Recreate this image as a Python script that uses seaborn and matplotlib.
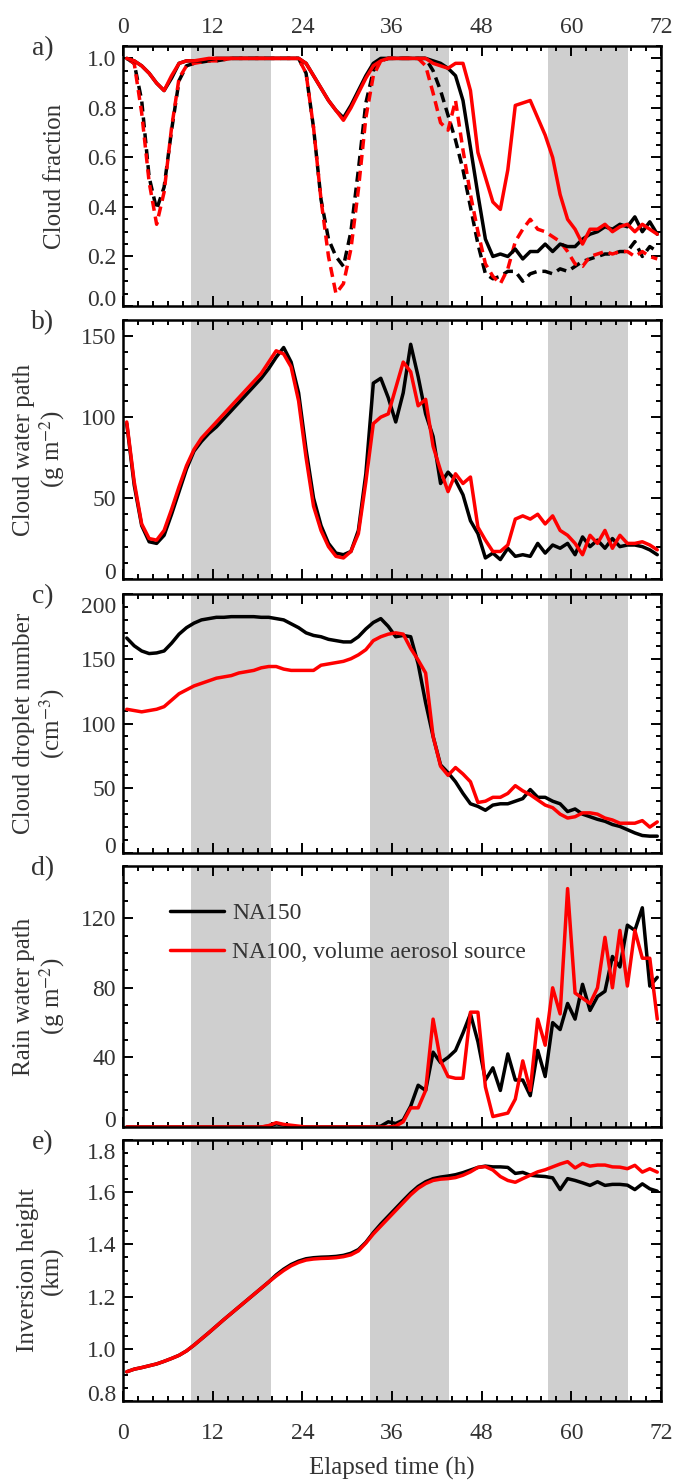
import numpy as np
import pandas as pd
import matplotlib
matplotlib.use("Agg")
import matplotlib.pyplot as plt
import seaborn as sns
from matplotlib.ticker import MultipleLocator, FormatStrFormatter
from matplotlib.transforms import ScaledTranslation
from matplotlib.lines import Line2D

sns.set_theme(style="ticks")
plt.rcParams["font.family"] = ["Liberation Serif", "DejaVu Serif"]
plt.rcParams["mathtext.fontset"] = "stix"

# ---------------- data ----------------
hours = np.arange(0.5, 72, 1.0)
runs = ["NA150", "NA100, volume aerosol source"]
nights = [(9.1, 19.8), (33.0, 43.6), (56.9, 67.6)]

cf_na150_solid = [1.00, 0.99, 0.97, 0.94, 0.90, 0.87, 0.92, 0.98, 0.99,
                  0.99, 0.99, 0.995, 1.0, 1.0, 1.0, 1.0, 1.0, 1.0, 1.0, 1.0, 1.0, 1.0, 1.0,
                  1.00, 0.98, 0.93, 0.88, 0.83, 0.79, 0.76, 0.81, 0.87, 0.93, 0.98, 1.00,
                  1.0, 1.0, 1.0, 1.0, 1.0, 1.0, 0.99,
                  0.98, 0.96, 0.93, 0.83, 0.64, 0.45, 0.27, 0.20, 0.21, 0.20, 0.23, 0.19,
                  0.22, 0.22, 0.25, 0.22, 0.25, 0.24, 0.24, 0.27, 0.29, 0.30, 0.32, 0.31,
                  0.33, 0.32, 0.36, 0.30, 0.34, 0.29]
cf_na100_solid = [1.00, 0.99, 0.97, 0.94, 0.90, 0.87, 0.93, 0.98, 0.99,
                  0.99, 0.995, 1.0, 1.0, 1.0, 1.0, 1.0, 1.0, 1.0, 1.0, 1.0, 1.0, 1.0, 1.0,
                  1.00, 0.98, 0.93, 0.88, 0.83, 0.79, 0.75, 0.80, 0.86, 0.92, 0.97, 0.99,
                  1.0, 1.0, 1.0, 1.0, 1.0, 1.0,
                  0.98, 0.97, 0.96, 0.98, 0.98, 0.87, 0.62, 0.52, 0.42, 0.39, 0.55, 0.81,
                  0.82, 0.83, 0.76, 0.69, 0.60, 0.45, 0.35, 0.31, 0.25, 0.31, 0.31, 0.33,
                  0.30, 0.32, 0.33, 0.30, 0.33, 0.31, 0.29]
cf_na150_dash = [1.00, 0.98, 0.83, 0.52, 0.39, 0.48, 0.71, 0.91, 0.97,
                 0.98, 0.985, 0.99, 0.99, 0.995, 1.0, 1.0, 1.0, 1.0, 1.0, 1.0, 1.0, 1.0, 1.0,
                 1.00, 0.94, 0.72, 0.43, 0.27, 0.20, 0.16, 0.30, 0.55, 0.82, 0.95, 0.99,
                 1.0, 1.0, 1.0, 1.0, 1.0, 1.0,
                 0.95, 0.87, 0.77, 0.67, 0.55, 0.40, 0.25, 0.13, 0.11, 0.12, 0.14, 0.14,
                 0.10, 0.13, 0.14, 0.14, 0.13, 0.15, 0.14, 0.16, 0.18, 0.19, 0.20, 0.21,
                 0.21, 0.22, 0.22, 0.26, 0.20, 0.24, 0.22]
cf_na100_dash = [1.00, 0.98, 0.78, 0.50, 0.33, 0.46, 0.72, 0.92, 0.97,
                 0.98, 0.985, 0.99, 0.99, 0.995, 1.0, 1.0, 1.0, 1.0, 1.0, 1.0, 1.0, 1.0, 1.0,
                 1.00, 0.94, 0.72, 0.43, 0.20, 0.05, 0.09, 0.23, 0.47, 0.76, 0.93, 0.99,
                 1.0, 1.0, 1.0, 1.0, 1.0,
                 0.97, 0.86, 0.74, 0.71, 0.83, 0.63, 0.45, 0.30, 0.17, 0.12, 0.09, 0.15,
                 0.26, 0.31, 0.35, 0.31, 0.30, 0.28, 0.26, 0.22, 0.17, 0.16, 0.20, 0.21,
                 0.22, 0.21, 0.22, 0.22, 0.20, 0.22, 0.20, 0.19]

cwp_na150 = [96, 58, 33, 23, 22, 27, 40, 54, 68, 79, 85, 90, 94, 99, 104, 109, 114, 119, 124, 130,
             137, 143, 134, 115, 80, 50, 33, 22, 16, 15, 17, 30, 65, 121, 124, 112, 97, 115, 145, 125,
             102, 88, 59, 66, 61, 52, 36, 28, 13, 16, 12, 19, 14, 15, 14, 22, 16, 21, 19, 22,
             15, 26, 20, 24, 19, 25, 20, 21, 21, 20, 18, 15]
cwp_na100 = [97, 60, 34, 25, 24, 30, 43, 57, 70, 80, 87, 92, 97, 102, 107, 112, 117, 122, 127, 134,
             141, 139, 131, 110, 75, 45, 30, 20, 14, 13, 17, 28, 60, 96, 100, 102, 118, 134, 128, 107,
             111, 82, 67, 54, 65, 59, 63, 32, 24, 17, 17, 21, 37, 39, 37, 40, 34, 39, 30, 27,
             22, 15, 27, 22, 30, 19, 27, 22, 22, 23, 21, 18]

cdnc_na150 = [166, 160, 156, 154, 154.5, 156, 162, 169, 174, 177.5, 180, 181, 182, 182, 182.5, 182.5, 182.5, 182.5, 182, 182,
              181, 180, 177, 174, 170, 168, 167, 165, 164, 163, 163, 167, 173, 178, 181, 175, 167, 168, 167, 146,
              116, 90, 68, 62, 55, 46, 38, 36, 33, 37, 38, 38, 40, 42, 49, 43, 43, 40, 38, 32,
              34, 30, 28, 26, 24.5, 22, 20.5, 18, 15.5, 13.5, 13, 13]
cdnc_na100 = [111, 110, 109, 110, 111, 113, 118, 123, 126, 129, 131, 133, 135, 136, 137, 139, 140, 141, 143, 144,
              144, 142, 141, 141, 141, 141, 145, 146, 147, 148, 150, 153, 157, 164, 167, 169, 170, 169, 158, 149,
              139, 90, 67, 60, 66, 61, 55, 39, 40, 43, 43, 46, 52, 48, 45, 41, 37, 35, 30, 27,
              28, 31, 31, 30, 27, 25.5, 23, 23, 23, 25, 20, 24]

rwp_na150 = [0] * 19 + [0.5, 1.8, 1.2, 0.5] + [0] * 11 + [
    0.5, 3, 2, 4, 12, 24, 21, 43, 37, 40, 44, 54, 65, 49, 27, 34, 21, 42, 27, 27, 18, 44,
    29, 60, 56, 71, 62, 82, 67, 75, 78, 98, 92, 116, 113, 126, 81, 86]
rwp_na100 = [0] * 19 + [0.8, 2.5, 1.5, 1.0, 0.5] + [0] * 12 + [
    0.5, 3, 11, 11, 21, 62, 38, 29, 28, 28, 66, 66, 23, 6, 7, 8, 16, 38, 21, 62,
    47, 80, 65, 137, 77, 74, 71, 80, 109, 80, 113, 81, 113, 97, 97, 62]

inv_na150 = [0.912, 0.922, 0.928, 0.935, 0.942, 0.952, 0.963, 0.975, 0.992, 1.014,
             1.038, 1.062, 1.087, 1.112, 1.136, 1.160, 1.184, 1.208, 1.232, 1.256,
             1.283, 1.305, 1.323, 1.336, 1.345, 1.349, 1.351, 1.352, 1.354, 1.358,
             1.366, 1.380, 1.408, 1.445, 1.478, 1.508, 1.538, 1.568, 1.597, 1.622,
             1.640, 1.652, 1.658, 1.662, 1.667, 1.675, 1.685, 1.695, 1.700, 1.697,
             1.697, 1.695, 1.672, 1.676, 1.665, 1.662, 1.660, 1.655, 1.610, 1.652,
             1.645, 1.636, 1.626, 1.640, 1.626, 1.630, 1.630, 1.627, 1.610, 1.632,
             1.613, 1.604]
inv_na100 = [0.912, 0.922, 0.928, 0.935, 0.942, 0.952, 0.963, 0.975, 0.992, 1.014,
             1.038, 1.062, 1.087, 1.112, 1.136, 1.160, 1.184, 1.208, 1.232, 1.256,
             1.279, 1.300, 1.318, 1.331, 1.340, 1.344, 1.346, 1.347, 1.349, 1.353,
             1.360, 1.375, 1.405, 1.440, 1.470, 1.500, 1.530, 1.560, 1.590, 1.615,
             1.633, 1.645, 1.650, 1.652, 1.656, 1.665, 1.678, 1.695, 1.698, 1.685,
             1.660, 1.645, 1.638, 1.652, 1.665, 1.678, 1.686, 1.697, 1.708, 1.717,
             1.693, 1.710, 1.700, 1.704, 1.704, 1.697, 1.696, 1.690, 1.703, 1.677,
             1.690, 1.677]

palette = {runs[0]: "black", runs[1]: "#ff0000"}
TXT = "#333333"


def long_df(a, b):
    return pd.DataFrame({
        "hour": np.concatenate([hours, hours]),
        "value": np.concatenate([np.asarray(a, float), np.asarray(b, float)]),
        "run": [runs[0]] * len(hours) + [runs[1]] * len(hours),
    })


def draw(ax, a, b):
    sns.lineplot(data=long_df(a, b), x="hour", y="value", hue="run",
                 hue_order=runs, palette=palette, ax=ax, legend=False,
                 estimator=None, sort=False, linewidth=2.5)


def style(ax, ylim, major, minor, fmt):
    for lo, hi in nights:
        ax.axvspan(lo, hi, color="#cfcfcf", lw=0, zorder=0)
    ax.set_xlim(0, 72)
    ax.set_ylim(*ylim)
    ax.xaxis.set_major_locator(MultipleLocator(12))
    ax.xaxis.set_minor_locator(MultipleLocator(2))
    ax.yaxis.set_major_locator(MultipleLocator(major))
    ax.yaxis.set_minor_locator(MultipleLocator(minor))
    ax.yaxis.set_major_formatter(FormatStrFormatter(fmt))
    ax.tick_params(which="both", direction="in", top=True, right=True,
                   bottom=True, left=True, width=1.4, color="black",
                   labelcolor=TXT, labelsize=17)
    ax.tick_params(which="major", length=7.5)
    ax.tick_params(which="minor", length=3.8)
    ax.tick_params(axis="x", labelbottom=False, labeltop=False)
    ax.tick_params(axis="y", pad=5)
    for s in ax.spines.values():
        s.set_linewidth(1.8)
        s.set_color("black")
    ax.set_xlabel("")
    ax.set_ylabel("")


W, H = 675, 1480
fig = plt.figure(figsize=(W / 100, H / 100), dpi=100)
L, R = 123, 661
boxes = [(46, 306), (320, 579), (594, 853), (866, 1127), (1140, 1401)]
axes = [fig.add_axes([L / W, 1 - b / H, (R - L) / W, (b - t) / H]) for t, b in boxes]
ax_a, ax_b, ax_c, ax_d, ax_e = axes

# panel a: dashed pair first, then solid pair on top
sns.lineplot(data=long_df(cf_na150_dash, cf_na100_dash), x="hour", y="value", hue="run",
             hue_order=runs, palette=palette, ax=ax_a, legend=False,
             estimator=None, sort=False, linewidth=2.5)
dl = ax_a.get_lines()
dl[0].set_linestyle((0, (2.9, 1.7)))
dl[1].set_linestyle((3.45, (2.9, 1.7)))
draw(ax_a, cf_na150_solid, cf_na100_solid)
style(ax_a, (0, 1.05), 0.2, 0.05, "%.1f")
ax_a.tick_params(axis="x", labeltop=True, pad=6)

draw(ax_b, cwp_na150, cwp_na100)
style(ax_b, (0, 160), 50, 10, "%d")

draw(ax_c, cdnc_na150, cdnc_na100)
style(ax_c, (0, 200), 50, 10, "%d")

draw(ax_d, rwp_na150, rwp_na100)
style(ax_d, (0, 150), 40, 10, "%d")
handles = [Line2D([], [], color=palette[r], lw=2.5) for r in runs]
ax_d.legend(handles, runs, loc="upper left", bbox_to_anchor=(0.087, 0.86),
            frameon=False, fontsize=17, handlelength=2.3, handletextpad=0.35,
            labelspacing=0.75, borderpad=0, borderaxespad=0, labelcolor=TXT)

draw(ax_e, inv_na150, inv_na100)
style(ax_e, (0.8, 1.8), 0.2, 0.05, "%.1f")
ax_e.tick_params(axis="x", labelbottom=True, pad=16)

# labels
letters = ["a)", "b)", "c)", "d)", "e)"]
ylabels = ["Cloud fraction", "Cloud water path\n(g m$^{-2}$)",
           "Cloud droplet number\n(cm$^{-3}$)", "Rain water path\n(g m$^{-2}$)",
           "Inversion height\n(km)"]
for (t, b), let, yl in zip(boxes, letters, ylabels):
    fig.text(43 / W, 1 - (t + 3) / H, let, ha="center", va="center",
             fontsize=20, color=TXT)
    xpos = 55 if "\n" not in yl else 40
    fig.text(xpos / W, 1 - (t + b) / 2 / H, yl, rotation=90, ha="center",
             va="center", multialignment="center", fontsize=18,
             linespacing=1.1, color=TXT)
fig.text(392 / W, 1 - 1468 / H, "Elapsed time (h)", ha="center", va="center",
         fontsize=18, color=TXT)

# shift tick labels that sit on the axis ends inward
fig.canvas.draw()
for ax in axes:
    lo, hi = ax.get_ylim()
    for tick in ax.yaxis.get_major_ticks():
        loc = tick.get_loc()
        if abs(loc - lo) < 1e-6 * max(1, abs(hi)):
            tick.label1.set_transform(tick.label1.get_transform()
                                      + ScaledTranslation(0, 0.08, fig.dpi_scale_trans))
        elif abs(loc - hi) < 1e-6 * max(1, abs(hi)):
            tick.label1.set_transform(tick.label1.get_transform()
                                      + ScaledTranslation(0, -0.11, fig.dpi_scale_trans))

fig.savefig("out.png", dpi=100)
